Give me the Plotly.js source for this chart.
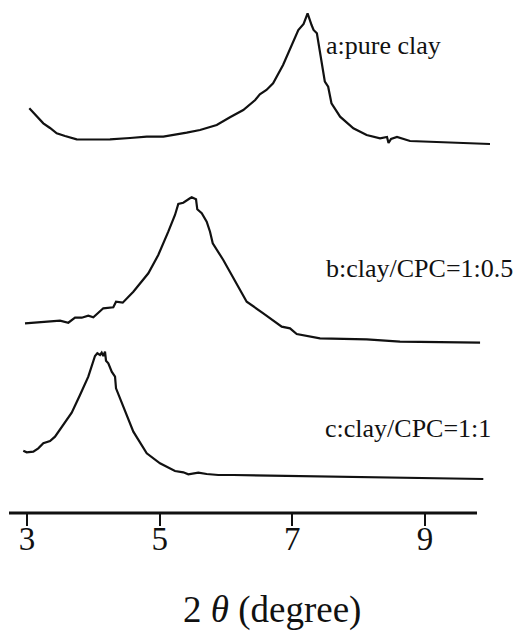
<!DOCTYPE html>
<html>
<head>
<meta charset="utf-8">
<script src="https://cdn.plot.ly/plotly-3.0.1.min.js"></script>
<style>html,body{margin:0;padding:0;background:#fff;}#chart{width:516px;height:632px;}</style>
</head>
<body>
<div id="chart"></div>
<script>
// 2θ (degree) and intensity (arbitrary units, curves offset vertically)
var thetaA = [3.035, 3.136, 3.246, 3.347, 3.448, 3.573, 3.749, 4.025, 4.251, 4.553, 4.805, 5.055, 5.231, 5.408, 5.608, 5.860,
              6.06, 6.26, 6.44, 6.51, 6.61, 6.71, 6.86, 6.96, 7.09, 7.17, 7.23, 7.29, 7.32, 7.37, 7.49, 7.54, 7.57, 7.59, 7.72, 7.92, 8.12,
              8.322, 8.427, 8.45, 8.488, 8.578, 8.774, 9.121, 9.528, 9.980];
var intA   = [404.7, 398, 389.7, 385, 379.7, 377, 373.7, 373.5, 373.7, 375, 376.3, 376.3, 378, 380.3, 383, 388,
              395.7, 403, 413, 418.7, 423, 429.7, 448, 463, 483, 489, 499.7, 488, 483, 479.7, 431.3, 426.3, 416.3, 409.7, 396.3, 384.7, 378,
              374.7, 376, 370, 374, 376, 372, 371, 370, 369];

var thetaB = [2.970, 3.498, 3.623, 3.724, 3.825, 3.924, 4.000, 4.150, 4.301, 4.342, 4.443, 4.603, 4.829, 4.979, 5.130, 5.231, 5.281,
              5.356, 5.457, 5.483, 5.548, 5.567, 5.634, 5.709, 5.759, 5.800, 5.959, 6.110, 6.312, 6.562, 6.840, 6.965, 7.066, 7.417,
              8.121, 8.623, 9.830];
var intB   = [189.7, 192.3, 190.3, 195.3, 195.3, 197.3, 195.7, 204.7, 205.7, 211.3, 210.3, 221.3, 239.7, 258, 281.3, 298, 309,
              310.3, 314.7, 315.7, 313.7, 303.7, 299.7, 291.3, 281.3, 269.7, 253, 234.7, 211.3, 199.7, 186.3, 184.7, 179, 174.7,
              173.7, 171.3, 170.3];

var thetaC = [2.944, 2.995, 3.095, 3.170, 3.246, 3.347, 3.422, 3.547, 3.674, 3.799, 3.924, 4.025, 4.060, 4.101, 4.126, 4.150, 4.176,
              4.191, 4.226, 4.277, 4.327, 4.342, 4.477, 4.603, 4.805, 5.005, 5.231, 5.357, 5.432, 5.583, 5.709, 5.884, 6.110,
              7.618, 8.623, 9.879];
var intC   = [62.3, 60.7, 61.3, 64.7, 69.7, 72, 76.3, 88, 100.3, 118, 136.3, 157, 159.7, 158, 160.3, 157, 161.3,
              152.3, 149.7, 141.3, 136.3, 124.7, 101.3, 81.3, 59.7, 49.7, 42, 40.7, 38.7, 40.3, 39, 38, 38,
              36.3, 35.5, 34];

var labels = ["a:pure clay", "b:clay/CPC=1:0.5", "c:clay/CPC=1:1"];
var labelX = [7.47, 7.47, 7.46];
var labelY = [468, 245, 85];
var tickVals = [3, 5, 7, 9];
var tickText = ["3", "5", "7", "9"];

var serif = "Liberation Serif";
var lineStyle = {color: "#111", width: 2.2};

var traces = [
  {x: thetaA, y: intA, mode: "lines", line: lineStyle, hoverinfo: "skip"},
  {x: thetaB, y: intB, mode: "lines", line: lineStyle, hoverinfo: "skip"},
  {x: thetaC, y: intC, mode: "lines", line: lineStyle, hoverinfo: "skip"}
];

var ann = labels.map(function (t, i) {
  return {x: labelX[i], y: labelY[i], xref: "x", yref: "y", text: t, showarrow: false,
          xanchor: "left", yanchor: "middle", font: {family: serif, size: 26, color: "#111"}};
});
ann.push({x: 0.5445, y: -0.189, xref: "paper", yref: "paper", text: "2 <i>θ</i> (degree)",
          showarrow: false, xanchor: "center", yanchor: "middle",
          font: {family: serif, size: 37, color: "#111"}});

var layout = {
  width: 516, height: 632,
  font: {family: serif, color: "#111"},
  margin: {l: 9, r: 24, t: 0, b: 119, pad: 0},
  paper_bgcolor: "#fff", plot_bgcolor: "#fff",
  showlegend: false,
  xaxis: {range: [2.7286, 10.01], showline: false, zeroline: false, showgrid: false,
          ticks: "outside", ticklen: 12, tickwidth: 2, tickcolor: "#111",
          ticklabelstandoff: -16,
          tickvals: tickVals, ticktext: tickText,
          tickfont: {family: serif, size: 33, color: "#111"}},
  yaxis: {range: [0, 513], visible: false, showgrid: false, zeroline: false},
  shapes: [{type: "line", xref: "x", yref: "paper", x0: 2.7286, x1: 9.784, y0: 0, y1: 0,
            line: {color: "#111", width: 3}}],
  annotations: ann
};

Plotly.newPlot("chart", traces, layout, {staticPlot: true, displayModeBar: false});
</script>
</body>
</html>
